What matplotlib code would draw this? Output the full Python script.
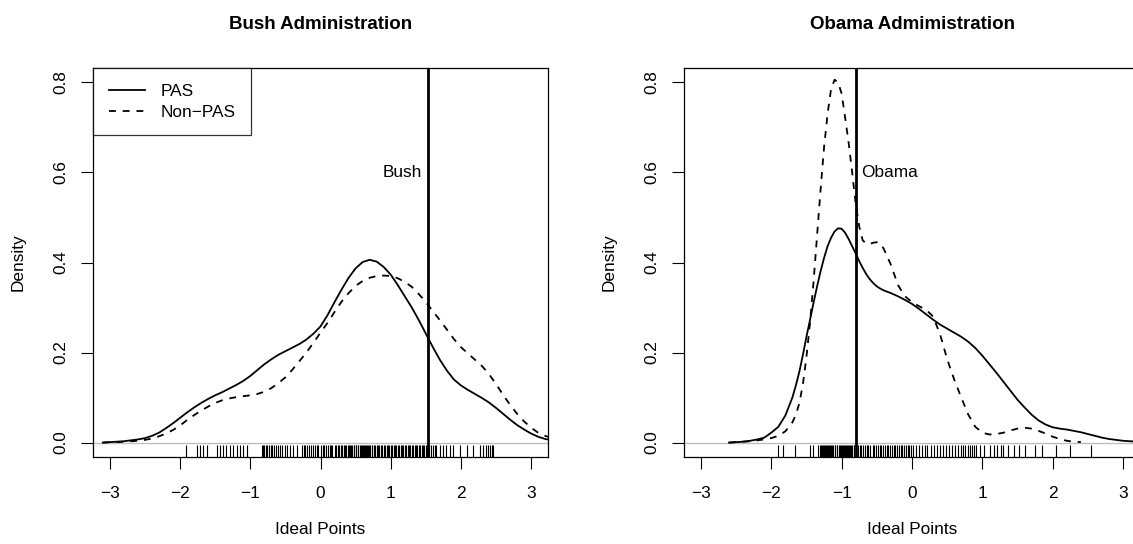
import numpy as np
import matplotlib
matplotlib.use("Agg")
import matplotlib.pyplot as plt

plt.rcParams["font.family"] = ["Liberation Sans", "DejaVu Sans"]

# ------------------------------------------------------------------ #
# Density estimates of ideal points                                    #
# ------------------------------------------------------------------ #

bush_x = np.round(np.arange(-3.1, 3.31, 0.1), 2)
bush_pas = [
    0.000, 0.001, 0.002, 0.003, 0.005, 0.007, 0.010, 0.015, 0.022, 0.032,
    0.043, 0.055, 0.067, 0.078, 0.088, 0.097, 0.105, 0.112, 0.120, 0.128,
    0.137, 0.148, 0.161, 0.174, 0.185, 0.195, 0.203, 0.211, 0.219, 0.229,
    0.242, 0.258, 0.283, 0.312, 0.340, 0.366, 0.387, 0.401, 0.406, 0.402,
    0.390, 0.373, 0.350, 0.325, 0.300, 0.272, 0.242, 0.212, 0.184, 0.160,
    0.140, 0.127, 0.117, 0.108, 0.099, 0.089, 0.077, 0.064, 0.051, 0.039,
    0.029, 0.020, 0.013, 0.008, 0.005,
]
bush_nonpas = [
    0.000, 0.001, 0.001, 0.002, 0.003, 0.004, 0.006, 0.009, 0.014, 0.020,
    0.028, 0.038, 0.050, 0.061, 0.071, 0.080, 0.088, 0.094, 0.098, 0.101,
    0.103, 0.105, 0.108, 0.113, 0.121, 0.132, 0.145, 0.162, 0.181, 0.200,
    0.222, 0.244, 0.266, 0.290, 0.313, 0.332, 0.348, 0.359, 0.366, 0.370,
    0.371, 0.370, 0.365, 0.357, 0.346, 0.330, 0.312, 0.292, 0.272, 0.251,
    0.230, 0.212, 0.198, 0.184, 0.170, 0.152, 0.130, 0.106, 0.084, 0.064,
    0.047, 0.033, 0.022, 0.015, 0.010,
]

# Obama curves are read on a finer step around the sharp left peak
_tail = np.round(np.arange(-2.6, -1.75, 0.1), 2)
_peak = np.round(np.arange(-1.7, -0.375, 0.05), 2)
obama_pas_x = np.r_[_tail, _peak, np.round(np.arange(-0.3, 3.35, 0.1), 2)]
obama_nonpas_x = np.r_[_tail, _peak, np.round(np.arange(-0.3, 2.45, 0.1), 2)]

obama_pas = [
    0.000, 0.001, 0.002, 0.004, 0.007, 0.011, 0.022, 0.035, 0.060,
    0.100, 0.127, 0.158, 0.195, 0.235, 0.272, 0.310, 0.346, 0.380, 0.410,
    0.436, 0.455, 0.469, 0.476, 0.475, 0.466, 0.452, 0.436, 0.420, 0.403,
    0.388, 0.374, 0.363, 0.354, 0.347, 0.342, 0.338,
    0.332, 0.325, 0.317, 0.308, 0.297, 0.285, 0.273, 0.262, 0.253, 0.244,
    0.235, 0.224, 0.210, 0.193, 0.174, 0.155, 0.135, 0.115, 0.095, 0.078,
    0.062, 0.049, 0.040, 0.034, 0.031, 0.029, 0.026, 0.023, 0.019, 0.015,
    0.011, 0.008, 0.006, 0.004, 0.003, 0.002, 0.001,
]
obama_nonpas = [
    0.000, 0.001, 0.002, 0.003, 0.005, 0.007, 0.010, 0.015, 0.025,
    0.045, 0.062, 0.088, 0.130, 0.190, 0.265, 0.355, 0.458, 0.560, 0.655,
    0.730, 0.785, 0.806, 0.800, 0.775, 0.722, 0.665, 0.600, 0.530, 0.480,
    0.449, 0.442, 0.441, 0.444, 0.445, 0.442, 0.430,
    0.395, 0.350, 0.325, 0.312, 0.303, 0.295, 0.280, 0.240, 0.185, 0.140,
    0.100, 0.062, 0.035, 0.022, 0.018, 0.019, 0.022, 0.027, 0.031, 0.033,
    0.031, 0.026, 0.020, 0.013, 0.008, 0.004, 0.002, 0.001,
]

# Individual ideal points shown as a rug under each density
bush_rug = [
    -1.92, -1.76, -1.72, -1.67, -1.62, -1.48, -1.43, -1.39, -1.34, -1.29,
    -1.24, -1.19, -1.15, -1.10, -1.05,
    -0.84, -0.82, -0.80, -0.78, -0.76, -0.74, -0.71, -0.69, -0.66, -0.63,
    -0.60, -0.57, -0.55, -0.51, -0.47, -0.44, -0.39, -0.34,
    -0.27, -0.24, -0.22, -0.19, -0.16, -0.13, -0.11, -0.08, -0.05, -0.03,
    0.00, 0.03, 0.05, 0.08, 0.10, 0.13, 0.15, 0.17, 0.20, 0.22, 0.25, 0.27,
    0.29, 0.31, 0.33, 0.35, 0.37, 0.39, 0.41, 0.42, 0.44, 0.45, 0.47, 0.48,
    0.50, 0.51, 0.53, 0.54, 0.56, 0.57, 0.59, 0.60, 0.62, 0.63, 0.65, 0.66,
    0.68, 0.69, 0.71, 0.73, 0.74, 0.76, 0.78, 0.80, 0.82, 0.84, 0.86, 0.88,
    0.90, 0.92, 0.94, 0.96, 0.98, 1.00, 1.02, 1.04, 1.06, 1.08, 1.10, 1.12,
    1.14, 1.16, 1.18, 1.20, 1.22, 1.24, 1.26, 1.28, 1.30, 1.32, 1.34, 1.36,
    1.38, 1.40, 1.42, 1.44, 1.46, 1.48, 1.50, 1.52, 1.54, 1.57, 1.60, 1.63,
    1.65, 1.70, 1.74, 1.79, 1.84, 1.89, 1.98, 2.08, 2.17, 2.27, 2.31, 2.36,
    2.38, 2.41, 2.44, 2.46,
]
obama_rug = [
    -1.90, -1.83, -1.66, -1.45, -1.40,
    -1.33, -1.31, -1.30, -1.28, -1.27, -1.25, -1.24, -1.22, -1.21, -1.19,
    -1.18, -1.16, -1.15, -1.13, -1.12, -1.10, -1.09, -1.07, -1.06, -1.04,
    -1.03, -1.01, -1.00, -0.98, -0.97, -0.95, -0.94, -0.92, -0.91, -0.89,
    -0.88, -0.86, -0.85, -0.83, -0.82, -0.80, -0.79, -0.77,
    -0.74, -0.72, -0.69, -0.67, -0.64, -0.62, -0.59, -0.56, -0.54, -0.51,
    -0.49, -0.46, -0.44, -0.41, -0.39, -0.36, -0.34, -0.31, -0.29, -0.26,
    -0.24, -0.21, -0.19, -0.16, -0.14, -0.11, -0.09, -0.06, -0.04, -0.02,
    0.02, 0.06, 0.10, 0.14, 0.18, 0.22, 0.27, 0.31, 0.35, 0.40, 0.44, 0.48,
    0.53, 0.57, 0.61, 0.65, 0.69, 0.72, 0.76, 0.79, 0.82, 0.85, 0.88, 0.91,
    0.97, 1.03, 1.11, 1.16, 1.21, 1.26, 1.30, 1.37, 1.45, 1.52, 1.61, 1.75,
    1.85, 2.04, 2.25, 2.54,
]

# President's own ideal point
bush_point = 1.53
obama_point = -0.80

DASH = (3.8, 3.8)
FS = 12.4


# ------------------------------------------------------------------ #
# Helpers                                                              #
# ------------------------------------------------------------------ #

def _style_axes(ax):
    ax.set_xlim(-3.24, 3.24)
    ax.set_ylim(-0.032, 0.832)
    ax.set_xticks([-3, -2, -1, 0, 1, 2, 3])
    ax.set_yticks([0.0, 0.2, 0.4, 0.6, 0.8])
    ax.set_yticklabels(["0.0", "0.2", "0.4", "0.6", "0.8"],
                       rotation=90, va="center")
    ax.tick_params(direction="out", length=8.5, width=0.8, labelsize=FS)
    ax.tick_params(axis="x", pad=12.5)
    ax.tick_params(axis="y", pad=9)
    for sp in ax.spines.values():
        sp.set_linewidth(0.9)
    ax.set_xlabel("Ideal Points", fontsize=FS, labelpad=15)
    ax.set_ylabel("Density", fontsize=FS, labelpad=20)


def _draw_panel(ax, title, pas_x, pas, non_x, non, rug, point, name, side):
    _style_axes(ax)
    ax.set_title(title, fontsize=13.5, fontweight="bold", pad=28)
    ax.axhline(0, color="#BEBEBE", lw=1.0, zorder=1)
    ax.plot(pas_x, pas, color="black", lw=1.3, label="PAS", zorder=3)
    ax.plot(non_x, non, color="black", lw=1.3, dashes=DASH,
            label="Non\u2212PAS", zorder=3)
    ax.vlines(rug, 0, 0.03, transform=ax.get_xaxis_transform(),
              color="black", lw=0.8, zorder=2)
    ax.axvline(point, color="black", lw=2.0, zorder=4)
    if side == "left":
        ax.annotate(name, xy=(point, 0.6), xytext=(-4, 0),
                    textcoords="offset points", ha="right", va="center",
                    fontsize=FS)
    else:
        ax.annotate(name, xy=(point, 0.6), xytext=(4, 0),
                    textcoords="offset points", ha="left", va="center",
                    fontsize=FS)


# ------------------------------------------------------------------ #
# Figure                                                               #
# ------------------------------------------------------------------ #

fig = plt.figure(figsize=(11.33, 5.44), dpi=100)
fig.patch.set_facecolor("white")
ax_l = fig.add_axes([93 / 1133, 87 / 544, 455 / 1133, 389 / 544])
ax_r = fig.add_axes([684 / 1133, 87 / 544, 456 / 1133, 389 / 544])

_draw_panel(ax_l, "Bush Administration", bush_x, bush_pas, bush_x,
            bush_nonpas, bush_rug, bush_point, "Bush", "left")
_draw_panel(ax_r, "Obama Admimistration", obama_pas_x, obama_pas,
            obama_nonpas_x, obama_nonpas, obama_rug, obama_point,
            "Obama", "right")

leg = ax_l.legend(loc="upper left", borderaxespad=0, fontsize=FS,
                  frameon=True, fancybox=False, handlelength=2.1,
                  handletextpad=0.9, labelspacing=0.35, borderpad=0.9)
leg.get_frame().set_edgecolor("black")
leg.get_frame().set_linewidth(0.9)

fig.savefig("out.png", dpi=100)
